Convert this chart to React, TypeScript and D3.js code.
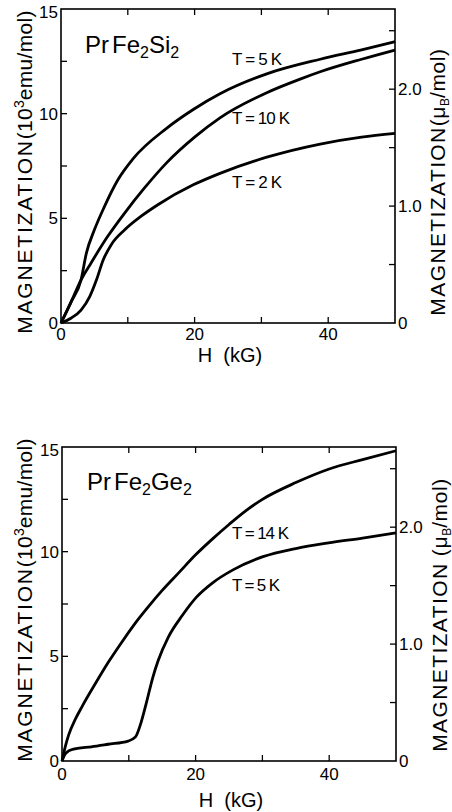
import React from 'react';
import * as d3 from 'd3';

// ---------- data ----------
const H_MAJOR = [0, 20, 40];
const H_ALL = [10, 20, 30, 40];
const M_MAJOR = [0, 5, 10, 15];
const M_ALL = [2.5, 5, 7.5, 10, 12.5];
const MU_MAJOR = [0, 1.0, 2.0];
const MU_ALL = [0.5, 1.0, 1.5, 2.0, 2.5];
const EMU_PER_MUB = 5.585; // 10^3 emu/mol per muB/mol

// PrFe2Si2 (H kG, M 10^3 emu/mol)
const si_T5K: [number, number][] = [
  [0, 0], [1.5, 1.0], [3.0, 2.06], [3.8, 3.34], [5, 4.45], [6.5, 5.56], [8.5, 6.83],
  [10.8, 7.85], [15.8, 9.3], [19.8, 10.2], [23.8, 10.95], [30.8, 11.9], [38.8, 12.6],
  [45, 13.05], [50, 13.44],
];
const si_T10K: [number, number][] = [
  [0, 0], [1.5, 1.0], [3.0, 2.06], [4.5, 2.87], [7, 4.14], [9.5, 5.24], [12.5, 6.45],
  [15.8, 7.65], [20, 8.88], [23.8, 9.8], [30.8, 11.0], [35.8, 11.65], [38.8, 12.0],
  [45, 12.6], [50, 13.04],
];
const si_T2K: [number, number][] = [
  [0, 0], [1.55, 0.24], [3.0, 0.62], [4.3, 1.26], [5.3, 2.05], [6.3, 3.0], [7.5, 3.73],
  [9.5, 4.44], [12, 5.1], [14.5, 5.65], [19.8, 6.6], [23.8, 7.15], [30.8, 7.92],
  [38.8, 8.55], [45, 8.88], [50, 9.06],
];

// PrFe2Ge2
const ge_T14K: [number, number][] = [
  [0, 0], [0.5, 0.7], [1, 1.25], [2, 2.0], [3, 2.6], [5, 3.7], [7, 4.75], [9, 5.7],
  [11, 6.6], [13, 7.4], [15, 8.15], [17.5, 9.0], [20, 9.85], [22.5, 10.6], [25, 11.3],
  [27.5, 11.95], [30, 12.5], [35, 13.3], [40, 13.95], [45, 14.4], [50, 14.82],
];
const ge_T5K: [number, number][] = [
  [0, 0], [0.4, 0.3], [1.0, 0.48], [1.9, 0.58], [4.4, 0.68], [6.9, 0.8], [9.9, 0.95],
  [11.0, 1.15], [11.8, 1.8], [12.6, 2.74], [13.6, 4.0], [14.4, 4.8], [15.9, 5.91],
  [18, 6.95], [20.2, 7.85], [22.5, 8.5], [25.6, 9.13], [30.1, 9.76], [35, 10.15],
  [39.9, 10.42], [45, 10.65], [50, 10.9],
];

const FONT = "'Liberation Sans', Arial, Helvetica, sans-serif";

type Series = { data: [number, number][]; label: string; lx: number; ly: number; lw: number };

type PanelProps = {
  x0: number; x1: number; yTop: number; yBot: number;
  element: string; compoundX: number; compoundY: number;
  series: Series[];
  tickLabelY: number; hLabelY: number;
  leftLabelCy: number; rightLabelCy: number; rightLabelX: number;
  rightSpace: boolean;
};

function Panel(p: PanelProps) {
  const x = d3.scaleLinear().domain([0, 50]).range([p.x0, p.x1]);
  const y = d3.scaleLinear().domain([0, 15]).range([p.yBot, p.yTop]);
  const yMu = d3.scaleLinear().domain([0, 15 / EMU_PER_MUB]).range([p.yBot, p.yTop]);
  const line = d3.line<[number, number]>().x(d => x(d[0])).y(d => y(d[1])).curve(d3.curveMonotoneX);
  const TL = 6;
  return (
    <g>
      <rect x={p.x0} y={p.yTop} width={p.x1 - p.x0} height={p.yBot - p.yTop} fill="none" stroke="#000" strokeWidth={1.6} />
      {H_ALL.map(v => (
        <g key={'h' + v}>
          <line x1={x(v)} x2={x(v)} y1={p.yBot} y2={p.yBot - TL} stroke="#000" strokeWidth={1.3} />
          <line x1={x(v)} x2={x(v)} y1={p.yTop} y2={p.yTop + TL} stroke="#000" strokeWidth={1.3} />
        </g>
      ))}
      {M_ALL.map(v => (
        <line key={'m' + v} x1={p.x0} x2={p.x0 + TL} y1={y(v)} y2={y(v)} stroke="#000" strokeWidth={1.3} />
      ))}
      {MU_ALL.map(v => (
        <line key={'u' + v} x1={p.x1} x2={p.x1 - TL} y1={yMu(v)} y2={yMu(v)} stroke="#000" strokeWidth={1.3} />
      ))}
      {M_MAJOR.map(v => (
        <text key={'ml' + v} x={p.x0 - 3} y={Math.max(y(v), p.yTop + 3) + 6} textAnchor="end" fontSize={17} fontFamily={FONT}>{v}</text>
      ))}
      {MU_MAJOR.map(v => (
        <text key={'ul' + v} x={p.x1 + 3} y={yMu(v) + 6} textAnchor="start" fontSize={17} fontFamily={FONT}>{v === 0 ? '0' : v.toFixed(1)}</text>
      ))}
      {H_MAJOR.map(v => (
        <text key={'hl' + v} x={x(v)} y={p.tickLabelY} textAnchor="middle" fontSize={17} fontFamily={FONT}>{v}</text>
      ))}
      <text x={(p.x0 + p.x1) / 2 + 2} y={p.hLabelY} textAnchor="middle" fontSize={20} fontFamily={FONT} style={{ whiteSpace: 'pre' }}>{'H  (kG)'}</text>
      {/* left axis label */}
      <text transform={`translate(24,${p.leftLabelCy}) rotate(-90)`} y={7.5} textAnchor="middle" fontSize={21} fontFamily={FONT}>
        <tspan letterSpacing={1.8}>MAGNETIZATION</tspan>
        <tspan letterSpacing={0.3}>(10</tspan>
        <tspan fontSize={14} dy={-8}>3</tspan>
        <tspan dy={8} letterSpacing={0.3}>emu/mol)</tspan>
      </text>
      {/* right axis label */}
      <text transform={`translate(${p.rightLabelX},${p.rightLabelCy}) rotate(-90)`} y={7.5} textAnchor="middle" fontSize={21} fontFamily={FONT} style={{ whiteSpace: 'pre' }}>
        <tspan letterSpacing={1.4}>MAGNETIZATION</tspan>
        <tspan letterSpacing={0.6}>{p.rightSpace ? ' (\u03bc' : '(\u03bc'}</tspan>
        <tspan fontSize={12} dy={4}>B</tspan>
        <tspan dy={-4} letterSpacing={0.6}>/mol)</tspan>
      </text>
      {/* compound name */}
      <text x={p.compoundX} y={p.compoundY} fontSize={24} fontFamily={FONT}>
        <tspan>Pr</tspan>
        <tspan dx={3}>Fe</tspan>
        <tspan fontSize={16} dy={5}>2</tspan>
        <tspan dy={-5}>{p.element}</tspan>
        <tspan fontSize={16} dy={5}>2</tspan>
      </text>
      {p.series.map((s, i) => (
        <g key={i}>
          <path d={line(s.data) || ''} fill="none" stroke="#000" strokeWidth={2.8} strokeLinejoin="round" />
          <text x={s.lx} y={s.ly} fontSize={17} fontFamily={FONT} textLength={s.lw} lengthAdjust="spacing" style={{ whiteSpace: 'pre' }}>{s.label}</text>
        </g>
      ))}
    </g>
  );
}

export default function App() {
  return (
    <svg width={452} height={812} style={{ position: 'absolute', left: 0, top: 0, background: '#fff' }}>
      <rect width={452} height={812} fill="#fff" />
      <Panel
        x0={61} x1={395} yTop={9} yBot={323}
        element="Si" compoundX={85} compoundY={53}
        series={[
          { data: si_T5K, label: 'T = 5 K', lx: 232, ly: 65, lw: 50 },
          { data: si_T10K, label: 'T = 10 K', lx: 232, ly: 124, lw: 58 },
          { data: si_T2K, label: 'T = 2 K', lx: 232, ly: 188, lw: 50 },
        ]}
        tickLabelY={340} hLabelY={362}
        leftLabelCy={172} rightLabelCy={182} rightLabelX={437} rightSpace={false}
      />
      <Panel
        x0={62} x1={396} yTop={447} yBot={761}
        element="Ge" compoundX={87} compoundY={490}
        series={[
          { data: ge_T14K, label: 'T = 14 K', lx: 232, ly: 539, lw: 57 },
          { data: ge_T5K, label: 'T = 5 K', lx: 232, ly: 591, lw: 48 },
        ]}
        tickLabelY={780} hLabelY={807}
        leftLabelCy={600} rightLabelCy={615} rightLabelX={439} rightSpace={true}
      />
    </svg>
  );
}
